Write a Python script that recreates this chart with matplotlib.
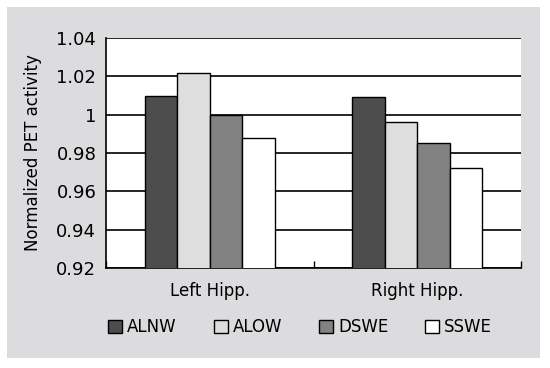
import numpy as np
import matplotlib
matplotlib.use('Agg')
import matplotlib.pyplot as plt
from matplotlib.patches import Rectangle, Patch

plt.rcParams['font.family'] = ['DejaVu Sans']

categories = ['Left Hipp.', 'Right Hipp.']
series = ['ALNW', 'ALOW', 'DSWE', 'SSWE']
values = {
    'ALNW': [1.010, 1.009],
    'ALOW': [1.022, 0.996],
    'DSWE': [1.000, 0.985],
    'SSWE': [0.988, 0.972],
}
colors = ['#4d4d4d', '#dedede', '#828282', '#ffffff']
yticks = [0.92, 0.94, 0.96, 0.98, 1.0, 1.02, 1.04]
ytick_labels = ['0.92', '0.94', '0.96', '0.98', '1', '1.02', '1.04']

fig = plt.figure(figsize=(5.5, 3.68), dpi=100)
fig.patch.set_facecolor('white')
# gray panel behind everything
fig.patches.append(Rectangle((7/550, 1 - 358/368), 533/550, 351/368,
                             transform=fig.transFigure, facecolor='#dcdcde',
                             edgecolor='none', zorder=-5))

ax = fig.add_axes([106/550, 1 - 268/368, 415/550, 230/368])
ax.set_facecolor('white')

x = np.arange(len(categories))
w = 0.157
for i, s in enumerate(series):
    ax.bar(x + (i - 1.5) * w, values[s], w, bottom=0, color=colors[i],
           edgecolor='black', linewidth=1.0, zorder=3)

ax.set_ylim(0.92, 1.04)
ax.set_xlim(-0.5, 1.5)
ax.set_yticks(yticks)
ax.set_yticklabels(ytick_labels, fontsize=13)
ax.yaxis.grid(True, color='black', linewidth=1.2, zorder=1)
ax.set_axisbelow(True)
ax.tick_params(axis='y', length=0, pad=7)

ax.set_xticks(x)
ax.set_xticklabels(categories, fontsize=12)
ax.set_xticks([-0.5, 0.5, 1.5], minor=True)
ax.tick_params(axis='x', which='major', length=0, pad=10)
ax.tick_params(axis='x', which='minor', direction='in', length=5, width=1)

for side in ['top', 'right']:
    ax.spines[side].set_visible(False)
for side in ['left', 'bottom']:
    ax.spines[side].set_linewidth(1.2)

ax.set_ylabel('Normalized PET activity', fontsize=12, labelpad=10)

handles = [Patch(facecolor=c, edgecolor='black', linewidth=1.0) for c in colors]
fig.legend(handles, series, loc='center', bbox_to_anchor=(300/550, 1 - 327/368),
           ncol=4, frameon=False, fontsize=12, handlelength=0.85, handleheight=0.85,
           handletextpad=0.3, columnspacing=2.2)

plt.savefig('out.png', dpi=100)
